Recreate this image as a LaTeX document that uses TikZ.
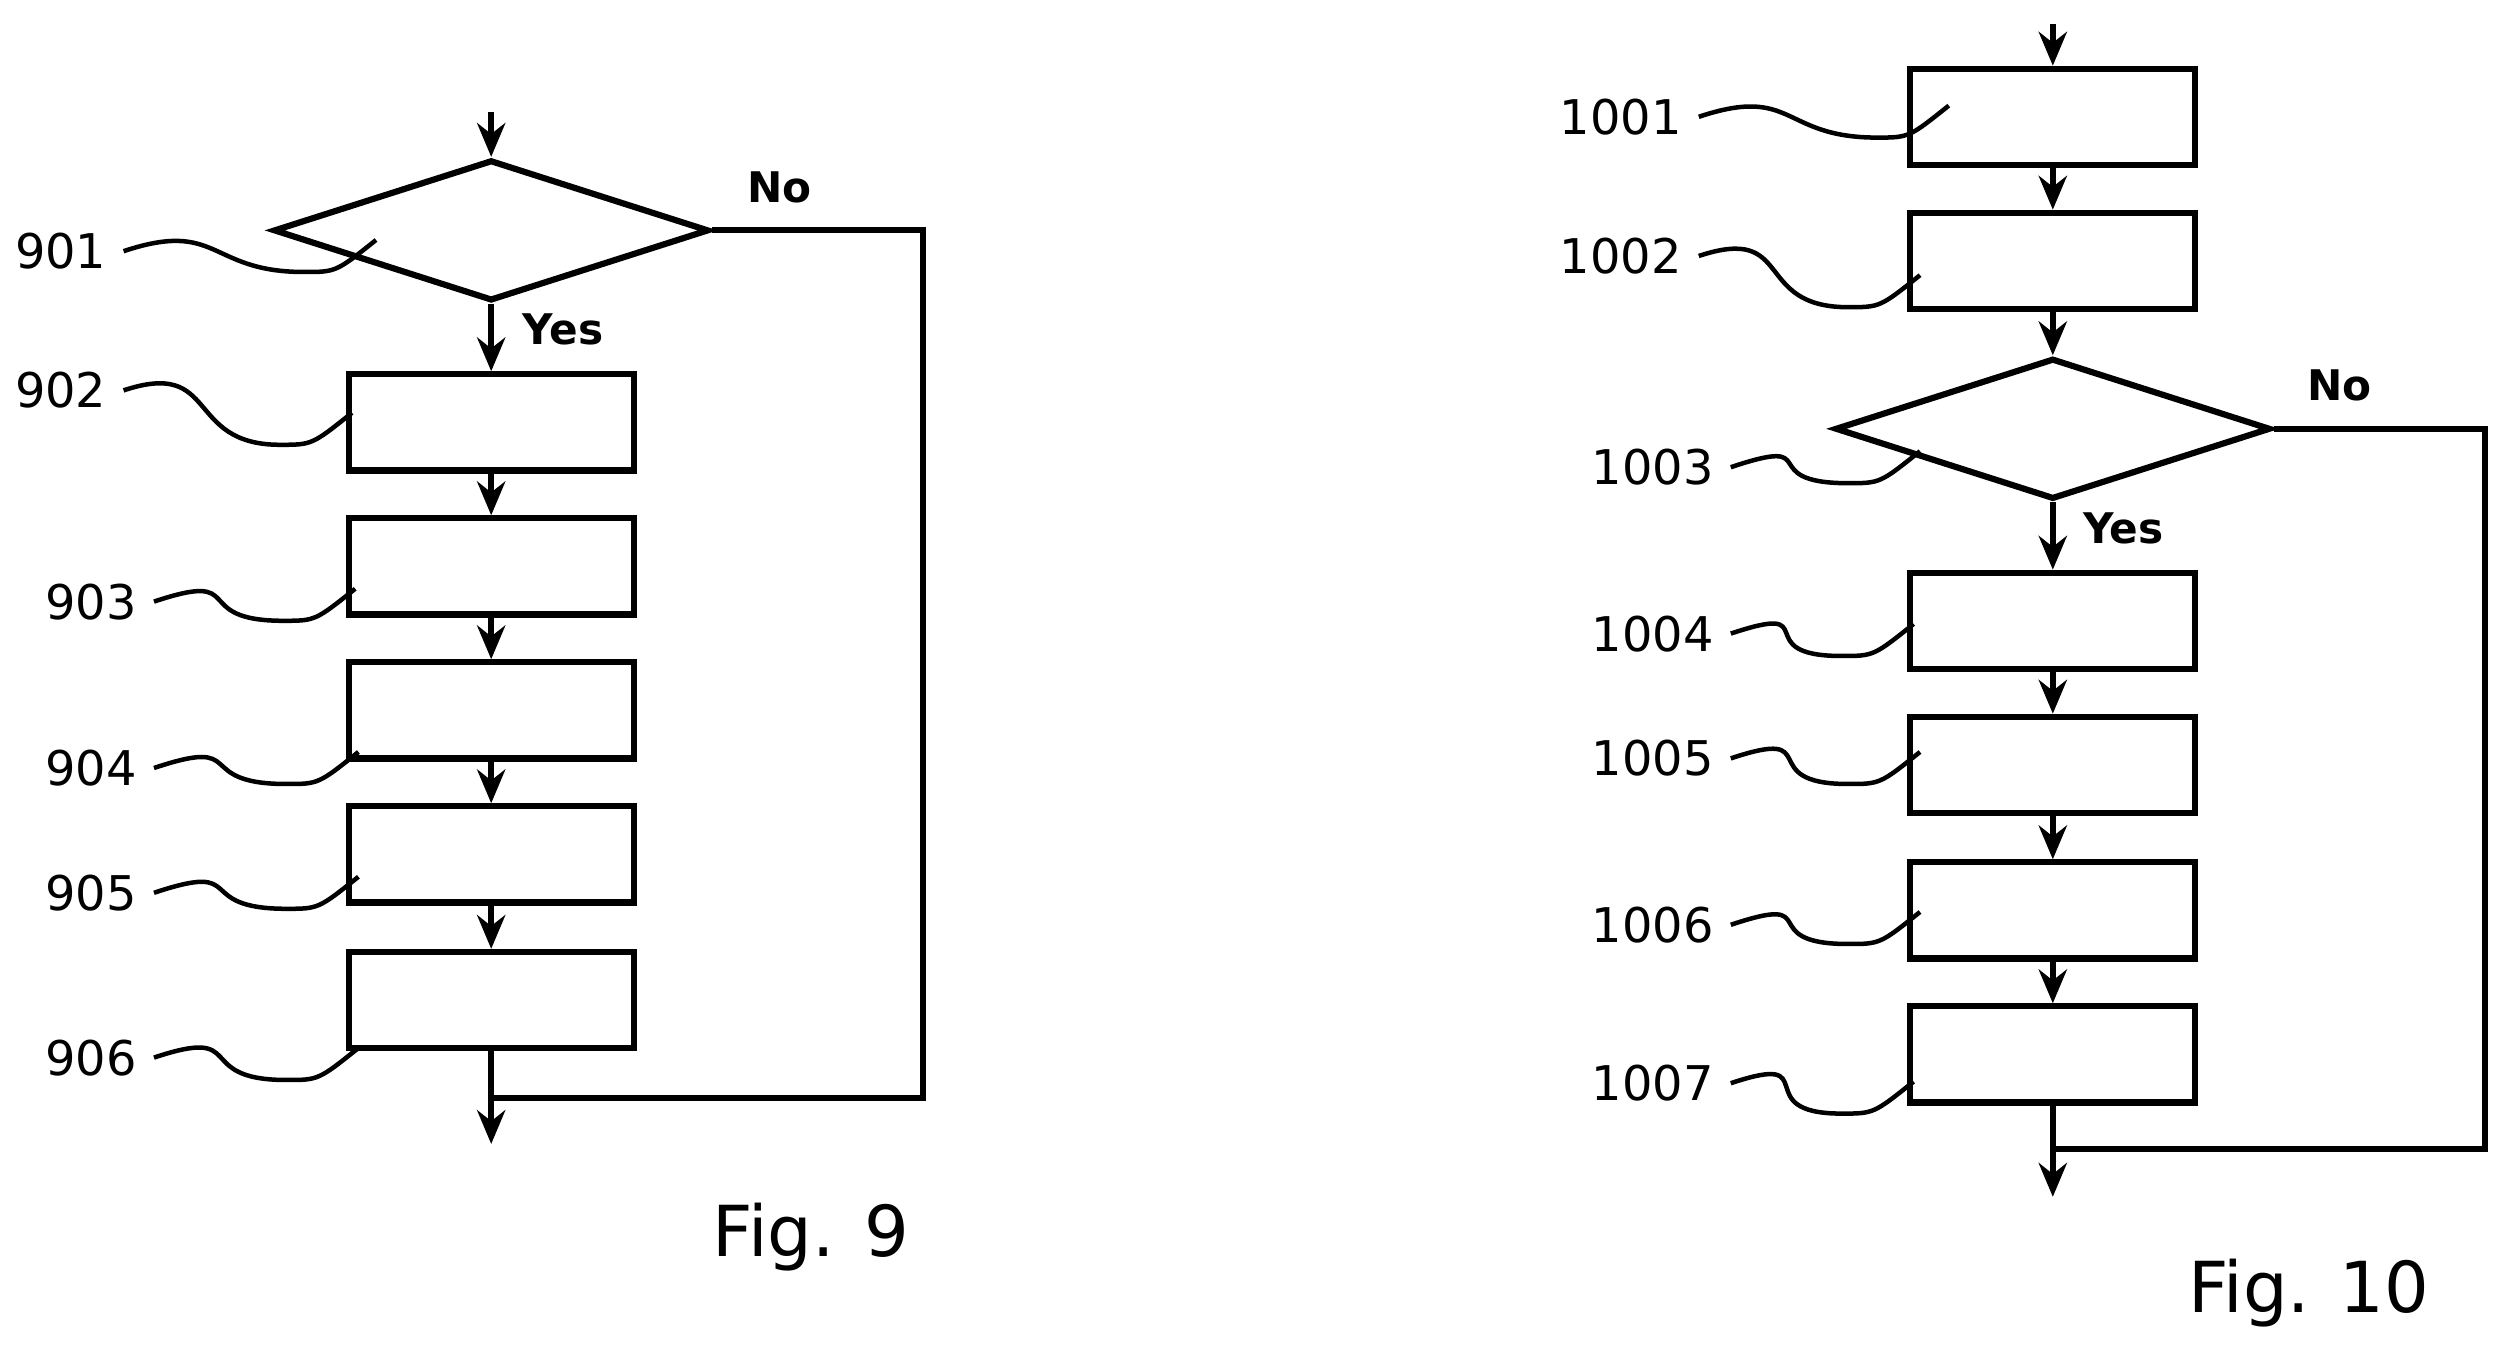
\documentclass[tikz,border=0pt]{standalone}
\usepackage{fontspec}
\setmainfont{DejaVu Sans}
\usetikzlibrary{arrows.meta,shapes.geometric,calc}
\begin{document}
\begin{tikzpicture}[x=0.01cm,y=-0.01cm,
  ln/.style={line width=1.1pt},
  ar/.style={ln,-{Stealth[length=6pt,width=5pt]}},
  box/.style={draw,line width=1.1pt,minimum width=1.78cm,minimum height=0.6cm,inner sep=0pt},
  dia/.style={draw,line width=1.1pt,diamond,minimum width=2.72cm,minimum height=0.88cm,inner sep=0pt,aspect=3.1},
  lab/.style={font=\fontsize{8.5}{10}\selectfont,inner sep=0pt},
  yn/.style={font=\bfseries\fontsize{7.5}{9}\selectfont,inner sep=0pt},
  fig/.style={font=\fontsize{12.5}{15}\selectfont,inner sep=0pt},
  lead/.style={line width=0.8pt}]
\useasboundingbox (0,0) rectangle (1560,843);
% ---------- Fig 9
\coordinate (s9) at (307,70);
\node[dia] (d901) at (307,144) {};
\node[box] (b902) at (307,264) {};
\node[box] (b903) at (307,354) {};
\node[box] (b904) at (307,444) {};
\node[box] (b905) at (307,534) {};
\node[box] (b906) at (307,625) {};
\coordinate (e9) at (307,715);
\coordinate (j9) at (307,686);
\coordinate (c9a) at (577,144);
\coordinate (c9b) at (577,686);
\draw[ar] (s9) -- (d901.north);
\draw[ar] (d901.south) -- (b902.north);
\draw[ar] (b902) -- (b903);
\draw[ar] (b903) -- (b904);
\draw[ar] (b904) -- (b905);
\draw[ar] (b905) -- (b906);
\draw[ar] (b906.south) -- (e9);
\draw[ln] (d901.east) -- (c9a) -- (c9b) -- (j9);
\node[yn] (no9) at (487,117) {No};
\node[yn] (yes9) at (352,206) {Yes};
\node[lab] (l901) at (38,157) {901};
\node[lab] (l902) at (38,244) {902};
\node[lab] (l903) at (57,376) {903};
\node[lab] (l904) at (57,480) {904};
\node[lab] (l905) at (57,558) {905};
\node[lab] (l906) at (57,661) {906};
\coordinate (t901) at (235,150);
\coordinate (t902) at (220,258);
\coordinate (t903) at (222,368);
\coordinate (t904) at (224,470);
\coordinate (t905) at (224,548);
\coordinate (t906) at (224,655);
\foreach \i in {901,902,903,904,905,906}
  \draw[lead] ($(l\i.east)+(10,0)$) .. controls +(60,-20) and +(-60,0) .. ($(t\i)+(-45,20)$) .. controls +(20,0) .. (t\i);
\node[fig] (f9) at (507,773) {Fig. 9};
% ---------- Fig 10
\coordinate (s10) at (1283,15);
\node[box] (b1001) at (1283,73) {};
\node[box] (b1002) at (1283,163) {};
\node[dia] (d1003) at (1283,268) {};
\node[box] (b1004) at (1283,388) {};
\node[box] (b1005) at (1283,478) {};
\node[box] (b1006) at (1283,569) {};
\node[box] (b1007) at (1283,659) {};
\coordinate (e10) at (1283,748);
\coordinate (j10) at (1283,718);
\coordinate (c10a) at (1553,268);
\coordinate (c10b) at (1553,718);
\draw[ar] (s10) -- (b1001.north);
\draw[ar] (b1001) -- (b1002);
\draw[ar] (b1002.south) -- (d1003.north);
\draw[ar] (d1003.south) -- (b1004.north);
\draw[ar] (b1004) -- (b1005);
\draw[ar] (b1005) -- (b1006);
\draw[ar] (b1006) -- (b1007);
\draw[ar] (b1007.south) -- (e10);
\draw[ln] (d1003.east) -- (c10a) -- (c10b) -- (j10);
\node[yn] (no10) at (1462,241) {No};
\node[yn] (yes10) at (1327,330) {Yes};
\node[lab] (l1001) at (1013,73) {1001};
\node[lab] (l1002) at (1013,160) {1002};
\node[lab] (l1003) at (1033,292) {1003};
\node[lab] (l1004) at (1033,396) {1004};
\node[lab] (l1005) at (1033,474) {1005};
\node[lab] (l1006) at (1033,578) {1006};
\node[lab] (l1007) at (1033,677) {1007};
\coordinate (t1001) at (1218,66);
\coordinate (t1002) at (1200,172);
\coordinate (t1003) at (1200,282);
\coordinate (t1004) at (1196,390);
\coordinate (t1005) at (1200,470);
\coordinate (t1006) at (1200,570);
\coordinate (t1007) at (1196,676);
\foreach \i in {1001,1002,1003,1004,1005,1006,1007}
  \draw[lead] ($(l\i.east)+(10,0)$) .. controls +(60,-20) and +(-60,0) .. ($(t\i)+(-45,20)$) .. controls +(20,0) .. (t\i);
\node[fig] (f10) at (1443,808) {Fig. 10};
\end{tikzpicture}
\end{document}
